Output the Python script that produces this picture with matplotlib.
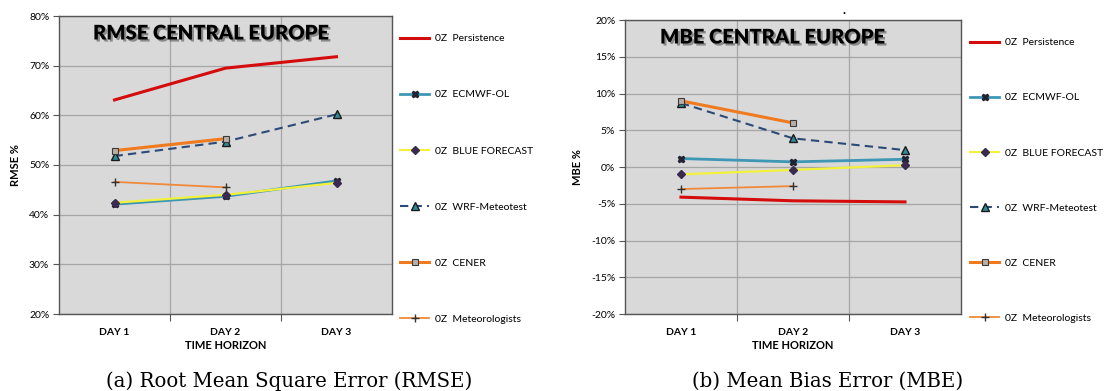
import matplotlib
matplotlib.use('Agg')
import matplotlib.pyplot as plt
import matplotlib.patheffects as pe
import numpy as np

days = ['DAY 1', 'DAY 2', 'DAY 3']
labels = ['0Z  Persistence', '0Z  ECMWF-OL', '0Z  BLUE FORECAST',
          '0Z  WRF-Meteotest', '0Z  CENER', '0Z  Meteorologists']

# RMSE in percent
rmse_persistence = [63.1, 69.5, 71.8]
rmse_ecmwf = [42.1, 43.7, 46.8]
rmse_blue = [42.4, 44.0, 46.4]
rmse_wrf = [51.8, 54.7, 60.2]
rmse_cener = [52.9, 55.3]
rmse_meteo = [46.6, 45.5]

# MBE in percent
mbe_persistence = [-4.1, -4.6, -4.75]
mbe_ecmwf = [1.15, 0.7, 1.05]
mbe_blue = [-1.0, -0.4, 0.25]
mbe_wrf = [8.7, 3.9, 2.3]
mbe_cener = [9.0, 6.0]
mbe_meteo = [-3.0, -2.6]

styles = [
    dict(color='#d40c0c', lw=2.2),
    dict(color='#3e97b4', lw=2.0, marker='X', ms=5, mfc='#222233', mec='#222233'),
    dict(color='#f2f23c', lw=1.6, marker='D', ms=4, mfc='#3a2a50', mec='#3a2a50'),
    dict(color='#2c4a78', lw=1.5, ls=(0, (4, 2.5)), marker='^', ms=6, mfc='#2f8a96', mec='#1a1a1a'),
    dict(color='#f07a1e', lw=2.2, marker='s', ms=5, mfc='#b8b0a8', mec='#3a3a3a', mew=0.8),
    dict(color='#f08a3a', lw=1.3, marker='+', ms=6, mec='#333333', mew=1.0),
]

W, H = 1113, 391
fig = plt.figure(figsize=(W / 100, H / 100), dpi=100)
plt.rcParams['font.family'] = ['Lato', 'DejaVu Sans']


def make_axes(rect, series, ylim, yticks, ylabel, title, title_xy, leg_xy, spacing):
    ax = fig.add_axes([rect[0] / W, 1 - rect[3] / H, (rect[2] - rect[0]) / W, (rect[3] - rect[1]) / H])
    ax.set_facecolor('#d9d9d9')
    x = np.arange(1, 4)
    handles = []
    for vals, st, lab in zip(series, styles, labels):
        h, = ax.plot(x[:len(vals)], vals, label=lab, **st)
        handles.append(h)
    ax.set_xlim(0.5, 3.5)
    ax.set_ylim(*ylim)
    ax.set_yticks(yticks)
    ax.set_yticklabels(['%d%%' % t for t in yticks], fontsize=7.5)
    # gridlines and ticks sit between the days, labels at the day centres
    ax.set_xticks([1.5, 2.5], minor=False)
    ax.set_xticklabels([])
    ax.set_xticks([1, 2, 3], minor=True)
    ax.set_xticklabels(days, minor=True, fontsize=7.5, fontweight='bold')
    ax.tick_params(axis='x', which='minor', length=0, pad=10)
    ax.tick_params(axis='x', which='major', length=5, color='#555555')
    ax.tick_params(axis='y', length=4, color='#555555', pad=3)
    ax.grid(True, which='major', color='#a6a6a6', lw=0.9)
    ax.set_axisbelow(True)
    for s in ax.spines.values():
        s.set_color('#555555')
        s.set_linewidth(1.0)
    ax.set_ylabel(ylabel, fontsize=8, fontweight='bold', labelpad=6)
    ax.set_xlabel('TIME HORIZON', fontsize=8, fontweight='bold', labelpad=2)
    fig.text(title_xy[0] / W, 1 - title_xy[1] / H, title, fontsize=14.5, fontweight='heavy',
             ha='left', va='center',
             path_effects=[pe.withSimplePatchShadow(offset=(1.5, -1.5), shadow_rgbFace='#555555', alpha=0.6)])
    fig.legend(handles=handles, loc='upper left',
               bbox_to_anchor=(leg_xy[0] / W, 1 - leg_xy[1] / H),
               frameon=False, fontsize=7.5, handlelength=2.8, handletextpad=0.6,
               labelspacing=spacing, borderaxespad=0, borderpad=0)
    return ax


make_axes((59, 16, 392, 314),
          [rmse_persistence, rmse_ecmwf, rmse_blue, rmse_wrf, rmse_cener, rmse_meteo],
          (20, 80), list(range(20, 81, 10)), 'RMSE %',
          'RMSE CENTRAL EUROPE', (93, 33), (400, 34), 4.5)
make_axes((625, 20, 961, 314),
          [mbe_persistence, mbe_ecmwf, mbe_blue, mbe_wrf, mbe_cener, mbe_meteo],
          (-20, 20), list(range(-20, 21, 5)), 'MBE %',
          'MBE CENTRAL EUROPE', (660, 37), (970, 38), 4.4)

fig.text(844 / W, 1 - 10 / H, '.', fontsize=9, fontweight='bold', ha='center', va='center')

fig.text(289 / W, 1 - 381 / H, '(a) Root Mean Square Error (RMSE)', family='DejaVu Serif',
         fontsize=14.2, ha='center', va='center')
fig.text(828 / W, 1 - 381 / H, '(b) Mean Bias Error (MBE)', family='DejaVu Serif',
         fontsize=14.2, ha='center', va='center')

fig.savefig('out.png', dpi=100)
